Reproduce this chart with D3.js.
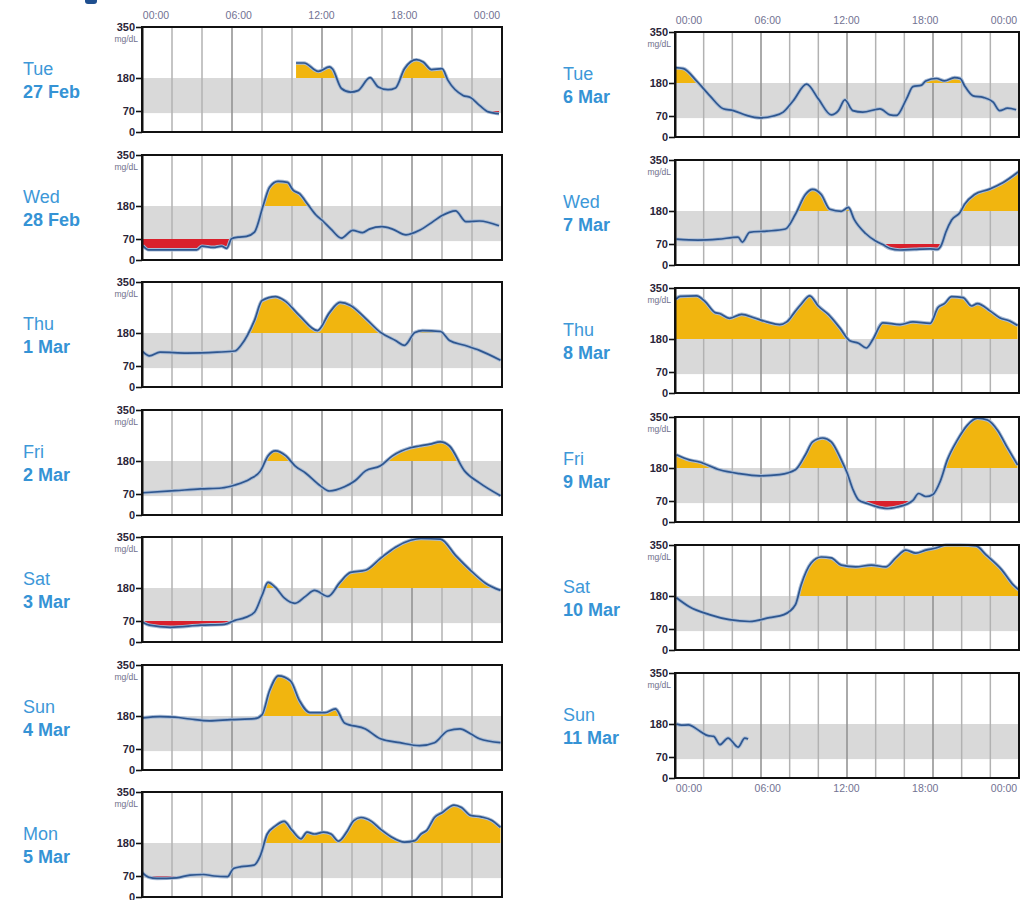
<!DOCTYPE html>
<html>
<head>
<meta charset="utf-8">
<script src="https://cdn.jsdelivr.net/npm/d3@7"></script>
<style>
  body { margin: 0; background: #fff; }
  svg { display: block; font-family: "Liberation Sans", Arial, sans-serif; }
</style>
</head>
<body>
<div id="wrapper"></div>
<script>
// labels
const leftDays = ["Tue", "Wed", "Thu", "Fri", "Sat", "Sun", "Mon"];
const leftDates = ["27 Feb", "28 Feb", "1 Mar", "2 Mar", "3 Mar", "4 Mar", "5 Mar"];
const rightDays = ["Tue", "Wed", "Thu", "Fri", "Sat", "Sun"];
const rightDates = ["6 Mar", "7 Mar", "8 Mar", "9 Mar", "10 Mar", "11 Mar"];
const yTicks = [0, 70, 180, 350];
const hourLabels = ["00:00", "06:00", "12:00", "18:00", "00:00"];
const targetLow = 63, targetHigh = 180, lowLimit = 70;

// glucose readings, [hour of day, mg/dL]
const tue27Feb = [[10.27,230],[10.8,230],[11.75,202],[12.5,217],[12.7,210],[13.3,145],[13.9,133],[14.4,138],[15.2,181],[15.75,150],[16.4,141],[16.9,147],[17.5,211],[18.3,241],[18.75,233],[19.3,208],[20.0,211],[20.4,172],[21.4,122],[21.9,115],[22.5,89],[23.1,67],[23.8,61]];
const wed28Feb = [[0.05,48],[0.44,34],[1.9,34],[3.65,34],[4.0,46],[4.75,42],[5.3,46],[5.65,39],[5.97,71],[6.4,76],[6.97,79],[7.5,93],[8.1,185],[8.5,242],[9.07,262],[9.7,259],[10.07,233],[10.5,221],[11.06,185],[11.6,150],[12.06,130],[12.6,103],[13.3,73],[14.05,99],[14.7,91],[15.15,103],[16.0,111],[16.7,103],[17.6,84],[18.5,99],[19.4,128],[20.0,148],[20.9,164],[21.6,128],[22.5,130],[23.8,114]];
const thu1Mar = [[0.05,118],[0.5,104],[1.2,116],[3.0,113],[5.0,116],[6.2,120],[6.6,139],[7.5,222],[8.0,288],[8.9,301],[9.5,288],[10.5,238],[11.7,188],[12.5,248],[13.2,282],[13.9,272],[14.9,229],[15.9,182],[16.9,155],[17.5,139],[18.2,182],[18.7,188],[19.9,185],[20.5,155],[21.5,139],[22.5,122],[23.9,89]];
const fri2Mar = [[0.05,74],[2.2,81],[3.9,87],[5.3,90],[6.2,100],[7.2,120],[7.9,147],[8.4,197],[8.9,214],[9.6,197],[10.2,164],[10.9,140],[11.9,97],[12.5,80],[13.5,94],[14.2,114],[14.9,147],[15.9,164],[16.7,197],[17.9,224],[18.5,230],[19.2,236],[19.9,244],[20.5,230],[21.5,147],[22.5,107],[23.9,64]];
const sat3Mar = [[0.05,66],[0.5,56],[1.9,49],[3.9,56],[5.5,59],[6.2,72],[6.9,82],[7.5,99],[8.0,155],[8.4,199],[8.9,182],[9.5,146],[10.2,129],[10.9,152],[11.5,172],[12.4,152],[13.2,199],[13.9,232],[14.9,239],[15.9,279],[16.9,316],[17.9,339],[18.6,345],[19.9,343],[20.9,289],[21.9,239],[22.9,196],[23.9,172]];
const sun4Mar = [[0.05,174],[1.2,178],[2.2,176],[3.2,170],[4.5,164],[5.9,168],[7.5,171],[8.0,184],[8.5,264],[9.1,314],[9.9,297],[10.5,231],[11.2,191],[12.2,191],[12.9,204],[13.5,157],[14.9,137],[15.9,104],[17.2,91],[18.5,81],[19.5,91],[20.4,131],[21.2,137],[21.9,121],[22.5,104],[23.9,91]];
const mon5Mar = [[0.0,82],[0.45,66],[1.0,62],[2.3,64],[3.2,73],[4.1,75],[4.8,70],[5.7,68],[6.1,95],[6.6,101],[7.46,106],[7.9,139],[8.35,210],[8.9,237],[9.47,252],[10.0,223],[10.6,194],[11.0,216],[11.5,210],[12.1,216],[12.6,210],[13.1,186],[13.7,221],[14.1,254],[14.6,265],[15.3,252],[15.9,226],[16.6,201],[17.5,183],[18.2,188],[18.6,210],[19.0,223],[19.5,265],[20.0,281],[20.8,306],[21.3,298],[21.9,272],[22.6,267],[23.3,256],[23.9,232]];
const tue6Mar = [[0.0,231],[0.58,228],[1.5,187],[2.44,137],[3.37,94],[4.07,88],[5.0,72],[5.9,64],[6.85,70],[7.55,83],[8.25,121],[9.18,176],[10.0,127],[10.9,74],[11.4,88],[11.85,124],[12.4,88],[13.1,83],[14.3,94],[15.0,74],[15.45,72],[16.15,127],[16.6,168],[17.2,173],[17.5,187],[18.24,195],[18.8,187],[19.5,198],[19.9,195],[20.2,171],[20.8,137],[21.5,132],[22.2,116],[22.65,88],[23.2,96],[23.8,91]];
const wed7Mar = [[0.1,86],[1.6,83],[3.0,86],[4.4,93],[4.7,76],[5.2,109],[6.4,113],[7.7,120],[8.4,169],[9.1,235],[9.6,252],[10.2,235],[10.8,186],[11.6,179],[12.1,192],[12.5,152],[13.3,105],[14.0,80],[14.5,68],[15.0,55],[15.7,50],[16.7,52],[17.8,54],[18.3,52],[18.6,68],[18.9,110],[19.3,150],[19.9,176],[20.2,202],[20.9,235],[21.9,252],[22.9,275],[24.0,312]];
const thu8Mar = [[0.07,313],[0.35,322],[1.5,324],[2.1,305],[2.8,268],[3.1,265],[3.8,249],[4.65,262],[5.5,251],[6.4,237],[7.3,228],[7.8,237],[8.4,273],[8.8,296],[9.4,324],[10.0,290],[10.7,262],[11.5,217],[12.2,174],[12.8,166],[13.35,150],[13.8,178],[14.5,234],[15.7,228],[16.6,237],[17.8,232],[18.35,285],[18.8,298],[19.3,321],[20.1,318],[20.7,290],[21.1,298],[22.0,273],[22.65,251],[23.35,240],[23.9,225]];
const fri9Mar = [[0.1,224],[1.0,207],[1.7,200],[3.1,174],[4.5,161],[5.9,154],[7.3,158],[8.4,174],[9.1,224],[9.6,267],[10.3,280],[10.9,267],[11.6,207],[12.0,165],[12.4,110],[12.8,74],[13.4,62],[14.0,52],[14.8,45],[15.5,50],[16.2,60],[16.6,72],[17.0,95],[17.5,85],[18.0,92],[18.5,135],[19.0,207],[19.7,273],[20.4,323],[21.1,346],[21.8,340],[22.5,306],[23.2,247],[23.9,190]];
const sat10Mar = [[0.1,174],[1.0,144],[2.4,118],[3.8,101],[5.2,95],[6.6,108],[7.6,118],[8.4,151],[8.8,217],[9.5,290],[10.2,310],[10.9,307],[11.6,283],[12.6,277],[13.7,283],[14.7,277],[15.4,307],[16.1,333],[16.8,323],[17.5,333],[18.2,340],[18.9,350],[19.9,350],[21.0,347],[21.7,317],[22.8,267],[23.6,217],[24.0,200]];
const sun11Mar = [[0.1,180],[0.46,176],[0.93,177],[1.74,156],[2.3,141],[2.7,139],[3.13,111],[3.7,133],[4.4,103],[4.87,133],[5.1,130]];

const leftSeries = [tue27Feb, wed28Feb, thu1Mar, fri2Mar, sat3Mar, sun4Mar, mon5Mar];
const rightSeries = [tue6Mar, wed7Mar, thu8Mar, fri9Mar, sat10Mar, sun11Mar];

const columns = [
  {days: leftDays, dates: leftDates, series: leftSeries, x: 142, width: 360, top: 27, step: 127.5, height: 105, labelX: 23, topLabels: true, bottomLabels: false},
  {days: rightDays, dates: rightDates, series: rightSeries, x: 675, width: 344, top: 32, step: 128.2, height: 105, labelX: 563, topLabels: true, bottomLabels: true}
];

const svg = d3.select("#wrapper").append("svg")
  .attr("width", 1035)
  .attr("height", 900);

// cropped header mark
svg.append("rect").attr("x", 85).attr("y", -3).attr("width", 12).attr("height", 7).attr("rx", 3).attr("fill", "#1f4f8f");

let panelId = 0;

columns.forEach(col => {
  col.series.forEach((data, i) => {
    const top = col.top + Math.round(i * col.step);
    const w = col.width, h = col.height;
    const id = panelId++;

    const x = d3.scaleLinear().domain([0, 24]).range([0, w]);
    const y = d3.scaleLinear().domain([0, 350]).range([h, 0]);

    const g = svg.append("g").attr("transform", `translate(${col.x},${top})`);

    // day label
    svg.append("text")
      .attr("x", col.labelX).attr("y", top + 48)
      .attr("font-size", 18).attr("fill", "#3d98d8")
      .text(col.days[i]);
    svg.append("text")
      .attr("x", col.labelX).attr("y", top + 71)
      .attr("font-size", 18).attr("font-weight", "bold").attr("fill", "#3593d5")
      .text(col.dates[i]);

    // target band
    g.append("rect")
      .attr("x", 0).attr("width", w)
      .attr("y", y(targetHigh)).attr("height", y(targetLow) - y(targetHigh))
      .attr("fill", "#d9d9d9");

    // vertical grid every 2h
    g.selectAll(".grid")
      .data(d3.range(2, 24, 2))
      .join("line")
      .attr("x1", d => x(d)).attr("x2", d => x(d))
      .attr("y1", 0).attr("y2", h)
      .attr("stroke", d => d % 6 === 0 ? "#8e8e8e" : "#b2b2b2")
      .attr("stroke-width", 1.5);

    // clip regions above high / below low
    const defs = g.append("defs");
    defs.append("clipPath").attr("id", "hi" + id)
      .append("rect").attr("x", 0).attr("y", 0).attr("width", w).attr("height", y(targetHigh));
    defs.append("clipPath").attr("id", "lo" + id)
      .append("rect").attr("x", 0).attr("y", y(lowLimit)).attr("width", w).attr("height", h - y(lowLimit));

    const hiArea = d3.area()
      .x(d => x(d[0])).y0(y(targetHigh)).y1(d => y(d[1]))
      .curve(d3.curveMonotoneX);
    const loArea = d3.area()
      .x(d => x(d[0])).y0(y(lowLimit)).y1(d => y(d[1]))
      .curve(d3.curveMonotoneX);

    g.append("path").attr("d", hiArea(data))
      .attr("fill", "#f1b50f").attr("clip-path", `url(#hi${id})`);
    g.append("path").attr("d", loArea(data))
      .attr("fill", "#d9202c").attr("clip-path", `url(#lo${id})`);

    const lineGen = d3.line()
      .x(d => x(d[0])).y(d => y(d[1]))
      .curve(d3.curveMonotoneX);

    g.append("path").attr("d", lineGen(data))
      .attr("fill", "none").attr("stroke", "#a9bcd6").attr("stroke-width", 3.6)
      .attr("stroke-linejoin", "round");
    g.append("path").attr("d", lineGen(data))
      .attr("fill", "none").attr("stroke", "#2e568f").attr("stroke-width", 1.7)
      .attr("stroke-linejoin", "round");

    // frame
    g.append("rect")
      .attr("x", 0).attr("y", 0).attr("width", w).attr("height", h)
      .attr("fill", "none").attr("stroke", "#111").attr("stroke-width", 2);

    // y axis
    const yAxis = g.append("g")
      .call(d3.axisLeft(y).tickValues(yTicks).tickSize(6).tickSizeOuter(0));
    yAxis.select(".domain").attr("stroke", "#111").attr("stroke-width", 2);
    yAxis.selectAll(".tick line").attr("stroke", "#111").attr("stroke-width", 1.6);
    yAxis.selectAll(".tick text")
      .attr("x", -7)
      .attr("font-family", "Liberation Sans, Arial, sans-serif")
      .attr("font-size", 11).attr("font-weight", "bold").attr("fill", "#2a2438");

    g.append("text")
      .attr("x", -4).attr("y", 15)
      .attr("text-anchor", "end")
      .attr("font-size", 8.5).attr("fill", "#70708c")
      .text("mg/dL");

    // hour labels
    const labelScale = d3.scalePoint().domain(d3.range(hourLabels.length)).range([14, w - 15]);
    if (col.topLabels && i === 0) {
      g.selectAll(".hl-top")
        .data(hourLabels)
        .join("text")
        .attr("x", (d, k) => labelScale(k)).attr("y", -8)
        .attr("text-anchor", "middle")
        .attr("font-size", 10.5).attr("fill", "#727292")
        .text(d => d);
    }
    if (col.bottomLabels && i === col.series.length - 1) {
      g.selectAll(".hl-bottom")
        .data(hourLabels)
        .join("text")
        .attr("x", (d, k) => labelScale(k)).attr("y", h + 14)
        .attr("text-anchor", "middle")
        .attr("font-size", 10.5).attr("fill", "#727292")
        .text(d => d);
    }
  });
});
</script>
</body>
</html>
